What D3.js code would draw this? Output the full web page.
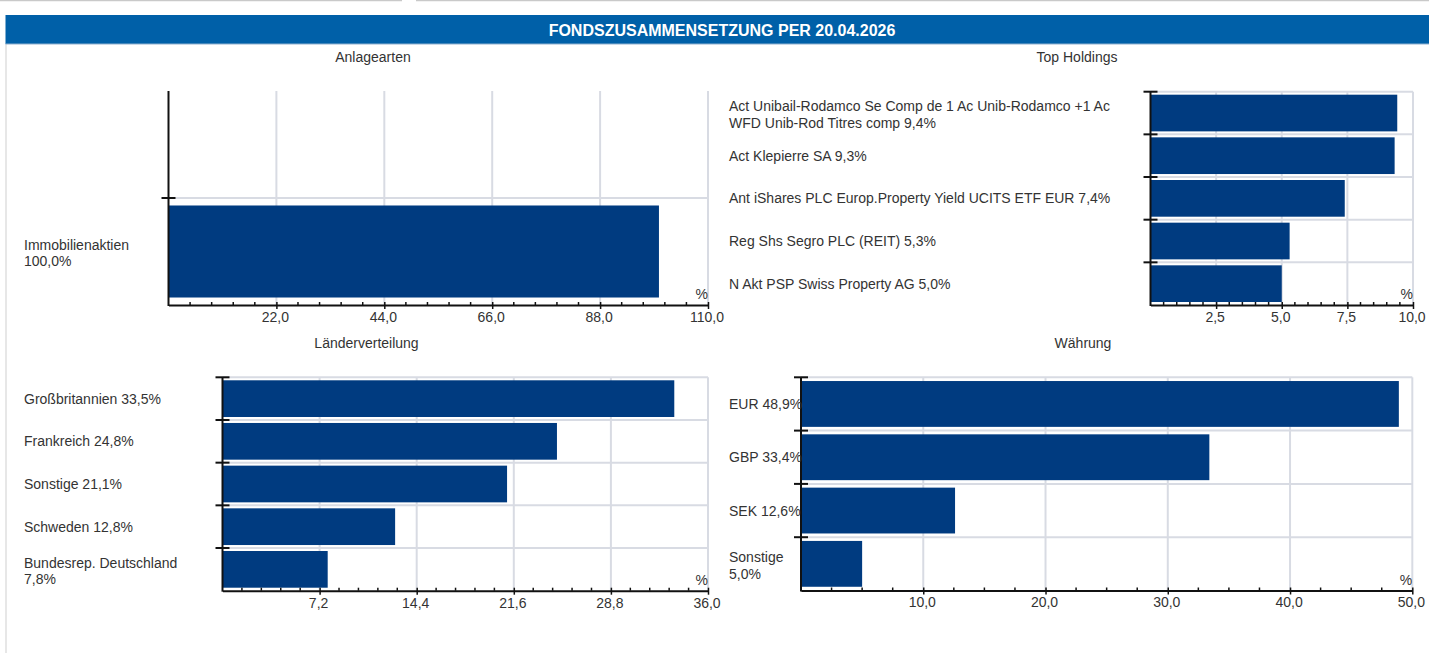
<!DOCTYPE html>
<html lang="de">
<head>
<meta charset="utf-8">
<title>Fondszusammensetzung</title>
<script src="https://cdn.jsdelivr.net/npm/d3@7"></script>
<style>
  html, body { margin: 0; padding: 0; background: #fff; }
  svg { display: block; font-family: "Liberation Sans", Arial, Helvetica, sans-serif; }
</style>
</head>
<body>
<svg id="chart" width="1429" height="653"></svg>
<script>
// ---- Data ----
const headerTitle = "FONDSZUSAMMENSETZUNG PER 20.04.2026";

const anlageTitle = "Anlagearten";
const anlageCategories = ["Immobilienaktien"];
const anlageValues = [100.0];
const anlageTicks = [22, 44, 66, 88, 110];

const holdingTitle = "Top Holdings";
const holdingCategories = [
  "Act Unibail-Rodamco Se Comp de 1 Ac Unib-Rodamco +1 Ac WFD Unib-Rod Titres comp",
  "Act Klepierre SA",
  "Ant iShares PLC Europ.Property Yield UCITS ETF EUR",
  "Reg Shs Segro PLC (REIT)",
  "N Akt PSP Swiss Property AG"
];
const holdingValues = [9.4, 9.3, 7.4, 5.3, 5.0];
const holdingTicks = [2.5, 5.0, 7.5, 10.0];

const countryTitle = "Länderverteilung";
const countryCategories = ["Großbritannien", "Frankreich", "Sonstige", "Schweden", "Bundesrep. Deutschland"];
const countryValues = [33.5, 24.8, 21.1, 12.8, 7.8];
const countryTicks = [7.2, 14.4, 21.6, 28.8, 36.0];

const currencyTitle = "Währung";
const currencyCategories = ["EUR", "GBP", "SEK", "Sonstige"];
const currencyValues = [48.9, 33.4, 12.6, 5.0];
const currencyTicks = [10, 20, 30, 40, 50];

// ---- Formatting (German decimal comma) ----
const de = d3.formatLocale({ decimal: ",", thousands: ".", grouping: [3], currency: ["", " €"] });
const fmt1 = de.format(".1f");

// ---- Colours ----
const BAR = "#003b80";
const GRID = "#d8dbe3";
const AXIS = "#111";
const TEXT = "#333";

const svg = d3.select("#chart");

// Top tab separators
svg.append("line").attr("x1", 0).attr("x2", 402).attr("y1", 0.5).attr("y2", 0.5)
  .attr("stroke", "#c9c9c9").attr("stroke-width", 1.5);
svg.append("line").attr("x1", 416).attr("x2", 1429).attr("y1", 0.5).attr("y2", 0.5)
  .attr("stroke", "#c9c9c9").attr("stroke-width", 1.5);

// Panel left border
svg.append("line").attr("x1", 6).attr("x2", 6).attr("y1", 44).attr("y2", 653)
  .attr("stroke", "#cfcfcf").attr("stroke-width", 1);

// Header bar
svg.append("rect").attr("x", 5.5).attr("y", 15).attr("width", 1424).attr("height", 29)
  .attr("fill", "#0060a8");
svg.append("line").attr("x1", 5.5).attr("x2", 1429).attr("y1", 44).attr("y2", 44)
  .attr("stroke", "#8fb0cf").attr("stroke-width", 1);
svg.append("text").attr("x", 722).attr("y", 35.5).attr("text-anchor", "middle")
  .attr("fill", "#fff").attr("font-size", 16).attr("font-weight", "bold")
  .text(headerTitle);

// ---- Horizontal bar chart panel ----
function barPanel(opt) {
  const g = svg.append("g");
  const n = opt.categories.length;
  const slots = Math.max(n, opt.minSlots || 0);
  const offset = slots - n;

  const x = d3.scaleLinear().domain([0, opt.max]).range([opt.x0, opt.x1]);
  const y = d3.scaleBand().domain(d3.range(slots)).range([opt.y0, opt.y1]).paddingInner(0).paddingOuter(0);
  const bw = y.bandwidth();

  // Subtitle
  g.append("text").attr("x", opt.titleX).attr("y", opt.titleY).attr("text-anchor", "middle")
    .attr("font-size", 14).attr("fill", TEXT).text(opt.title);

  // Vertical grid lines at major ticks
  g.append("g").selectAll("line").data(opt.ticks).join("line")
    .attr("x1", d => x(d)).attr("x2", d => x(d))
    .attr("y1", opt.y0).attr("y2", opt.y1)
    .attr("stroke", GRID).attr("stroke-width", 2);

  // Horizontal grid lines at each category boundary
  g.append("g").selectAll("line").data(opt.categories).join("line")
    .attr("x1", opt.x0).attr("x2", opt.x1)
    .attr("y1", (d, i) => y(i + offset)).attr("y2", (d, i) => y(i + offset))
    .attr("stroke", GRID).attr("stroke-width", 2);

  // Bars
  g.append("g").selectAll("rect").data(opt.values).join("rect")
    .attr("x", x(0))
    .attr("y", (d, i) => y(i + offset) + bw * 0.07)
    .attr("width", d => x(d) - x(0))
    .attr("height", bw * 0.86)
    .attr("fill", BAR);

  // Bottom axis
  const axis = d3.axisBottom(x).tickValues(opt.ticks).tickFormat(fmt1)
    .tickSizeInner(4).tickSizeOuter(0).tickPadding(3);
  const ax = g.append("g").attr("transform", `translate(0,${opt.y1})`).call(axis);
  ax.select(".domain").attr("stroke", AXIS).attr("stroke-width", 2);
  ax.selectAll(".tick line").attr("stroke", AXIS).attr("stroke-width", 1.5).attr("y1", -3);
  ax.selectAll(".tick text").attr("font-size", 14).attr("fill", TEXT)
    .attr("font-family", "'Liberation Sans', Arial, sans-serif").attr("dy", "0.71em")
    .attr("dx", -1.5);

  // Minor ticks
  const minorStep = opt.ticks[0] / opt.minor;
  const minors = d3.range(1, Math.round(opt.max / minorStep))
    .filter(k => k % opt.minor !== 0)
    .map(k => k * minorStep);
  g.append("g").selectAll("line").data(minors).join("line")
    .attr("x1", d => x(d)).attr("x2", d => x(d))
    .attr("y1", opt.y1 - 3).attr("y2", opt.y1)
    .attr("stroke", AXIS).attr("stroke-width", 1.5);

  // Vertical axis with caps at category boundaries
  g.append("line").attr("x1", opt.x0).attr("x2", opt.x0).attr("y1", opt.y0).attr("y2", opt.y1 + 1)
    .attr("stroke", AXIS).attr("stroke-width", 2);
  g.append("g").selectAll("line").data(opt.categories).join("line")
    .attr("x1", opt.x0 - 7).attr("x2", opt.x0 + 7)
    .attr("y1", (d, i) => y(i + offset)).attr("y2", (d, i) => y(i + offset))
    .attr("stroke", AXIS).attr("stroke-width", 2);

  // Unit label
  g.append("text").attr("x", opt.x1).attr("y", opt.y1 - 6).attr("text-anchor", "end")
    .attr("font-size", 14).attr("fill", TEXT).text("%");

  // Category labels (name + value), wrapped to the label column width
  const lh = 16.5;
  opt.categories.forEach((name, i) => {
    const label = `${name} ${fmt1(opt.values[i])}%`;
    const words = label.split(" ");
    const t = g.append("text").attr("font-size", 14).attr("fill", TEXT);
    const lines = [];
    let cur = [];
    const probe = t.append("tspan");
    words.forEach(w => {
      const test = cur.concat(w).join(" ");
      probe.text(test);
      if (cur.length && probe.node().getComputedTextLength() > opt.labelWidth) {
        lines.push(cur.join(" "));
        cur = [w];
      } else {
        cur.push(w);
      }
    });
    lines.push(cur.join(" "));
    probe.remove();
    const cy = y(i + offset) + bw / 2;
    const first = cy - (lines.length - 1) * lh / 2 + 5 + (lines.length > 1 ? 1.5 : 0);
    lines.forEach((ln, k) => {
      t.append("tspan").attr("x", opt.labelX).attr("y", first + k * lh).text(ln);
    });
  });
}

barPanel({
  title: anlageTitle, titleX: 373, titleY: 62,
  categories: anlageCategories, values: anlageValues, ticks: anlageTicks,
  max: 110, minor: 5, minSlots: 2,
  x0: 168.5, x1: 708, y0: 91, y1: 305,
  labelX: 24, labelWidth: 130
});

barPanel({
  title: holdingTitle, titleX: 1077, titleY: 62,
  categories: holdingCategories, values: holdingValues, ticks: holdingTicks,
  max: 10, minor: 5,
  x0: 1150.5, x1: 1413, y0: 91.7, y1: 305,
  labelX: 729, labelWidth: 400
});

barPanel({
  title: countryTitle, titleX: 366.5, titleY: 348,
  categories: countryCategories, values: countryValues, ticks: countryTicks,
  max: 36, minor: 5,
  x0: 222.5, x1: 708, y0: 377.3, y1: 590.7,
  labelX: 24, labelWidth: 170
});

barPanel({
  title: currencyTitle, titleX: 1083, titleY: 348,
  categories: currencyCategories, values: currencyValues, ticks: currencyTicks,
  max: 50, minor: 4,
  x0: 801, x1: 1412.3, y0: 377.3, y1: 590.5,
  labelX: 729, labelWidth: 78
});
</script>
</body>
</html>
